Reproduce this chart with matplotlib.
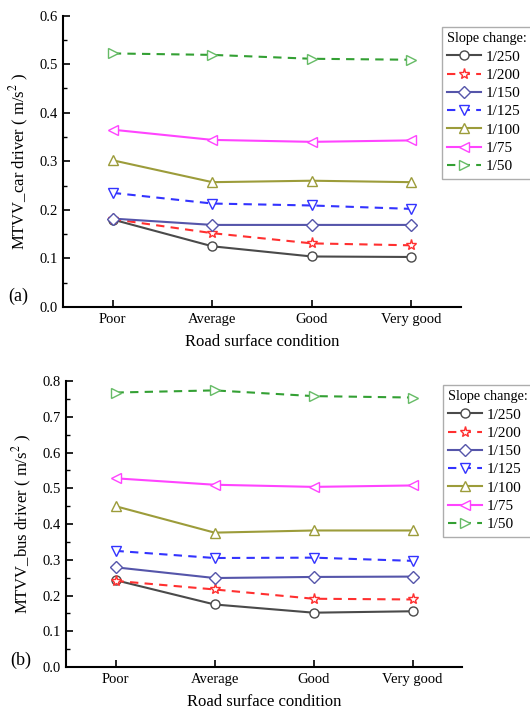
import matplotlib
matplotlib.use("Agg")
import matplotlib.pyplot as plt
from matplotlib.ticker import MultipleLocator, FormatStrFormatter

plt.rcParams['font.family'] = ['Liberation Serif', 'DejaVu Serif']
plt.rcParams['mathtext.fontset'] = 'stix'

categories = ["Poor", "Average", "Good", "Very good"]
series_labels = ["1/250", "1/200", "1/150", "1/125", "1/100", "1/75", "1/50"]

car_values = [
    [0.180, 0.125, 0.104, 0.103],
    [0.181, 0.152, 0.131, 0.127],
    [0.182, 0.169, 0.169, 0.169],
    [0.235, 0.213, 0.209, 0.202],
    [0.302, 0.257, 0.260, 0.257],
    [0.365, 0.344, 0.340, 0.343],
    [0.522, 0.519, 0.511, 0.509],
]
bus_values = [
    [0.243, 0.175, 0.152, 0.156],
    [0.241, 0.217, 0.191, 0.189],
    [0.279, 0.249, 0.252, 0.253],
    [0.325, 0.305, 0.306, 0.297],
    [0.450, 0.376, 0.382, 0.382],
    [0.528, 0.510, 0.504, 0.508],
    [0.768, 0.774, 0.758, 0.754],
]

colors = ["#4a4a4a", "#ff3030", "#5555aa", "#3333ff", "#9c9c3a", "#ff44ff", "#33a033"]
markers = ["o", "*", "D", "v", "^", "<", ">"]
msizes = [6.5, 8, 6, 7, 7, 7, 7]
styles = ["-", "--", "-", "--", "-", "-", "--"]

fig = plt.figure(figsize=(5.3, 7.13), dpi=100)

def draw(rect, values, ymax, ylabel, tag, tag_pos, leg_anchor):
    ax = fig.add_axes(rect)
    x = list(range(len(categories)))
    for vals, lab, c, m, ms, ls in zip(values, series_labels, colors, markers, msizes, styles):
        mec = "#66bb66" if lab == "1/50" else c
        kw = dict(dashes=(4, 3)) if ls == "--" else {}
        ax.plot(x, vals, linestyle=ls, color=c, marker=m, markersize=ms,
                markerfacecolor="white", markeredgecolor=mec, markeredgewidth=1.0,
                linewidth=1.5, label=lab, **kw)
    ax.set_xlim(-0.5, 3.5)
    ax.set_ylim(0, ymax)
    ax.set_xticks(x)
    ax.set_xticklabels(categories)
    ax.yaxis.set_major_locator(MultipleLocator(0.1))
    ax.yaxis.set_minor_locator(MultipleLocator(0.05))
    ax.yaxis.set_major_formatter(FormatStrFormatter('%.1f'))
    ax.tick_params(direction="in", length=5, width=1.2, labelsize=10.5, pad=4)
    ax.tick_params(which="minor", direction="in", length=3, width=1.0)
    for s in ["top", "right"]:
        ax.spines[s].set_visible(False)
    for s in ["left", "bottom"]:
        ax.spines[s].set_linewidth(1.5)
    ax.set_xlabel("Road surface condition", fontsize=12, labelpad=6)
    ax.set_ylabel(ylabel, fontsize=12, labelpad=6)
    ax.text(tag_pos[0], tag_pos[1], tag, transform=ax.transAxes, fontsize=13,
            ha="left", va="center")
    leg = ax.legend(loc="upper left", bbox_to_anchor=leg_anchor, bbox_transform=fig.transFigure,
                    title="Slope change:", fontsize=11, title_fontsize=10.3,
                    frameon=True, fancybox=False, edgecolor="#999999", handlelength=2.2,
                    labelspacing=0.3, borderpad=0.35, handletextpad=0.3, alignment="left",
                    borderaxespad=0)
    leg.get_frame().set_linewidth(1.0)
    return ax

draw([0.119, 0.5694, 0.751, 0.4088], car_values, 0.6,
     "MTVV_car driver ( m/s$^{2}$ )", "(a)", (-0.138, 0.038), (442 / 530, 1 - 27 / 713))
draw([0.1245, 0.0645, 0.7475, 0.401], bus_values, 0.8,
     "MTVV_bus driver ( m/s$^{2}$ )", "(b)", (-0.141, 0.024), (443 / 530, 1 - 385 / 713))

fig.savefig("out.png", dpi=100)
